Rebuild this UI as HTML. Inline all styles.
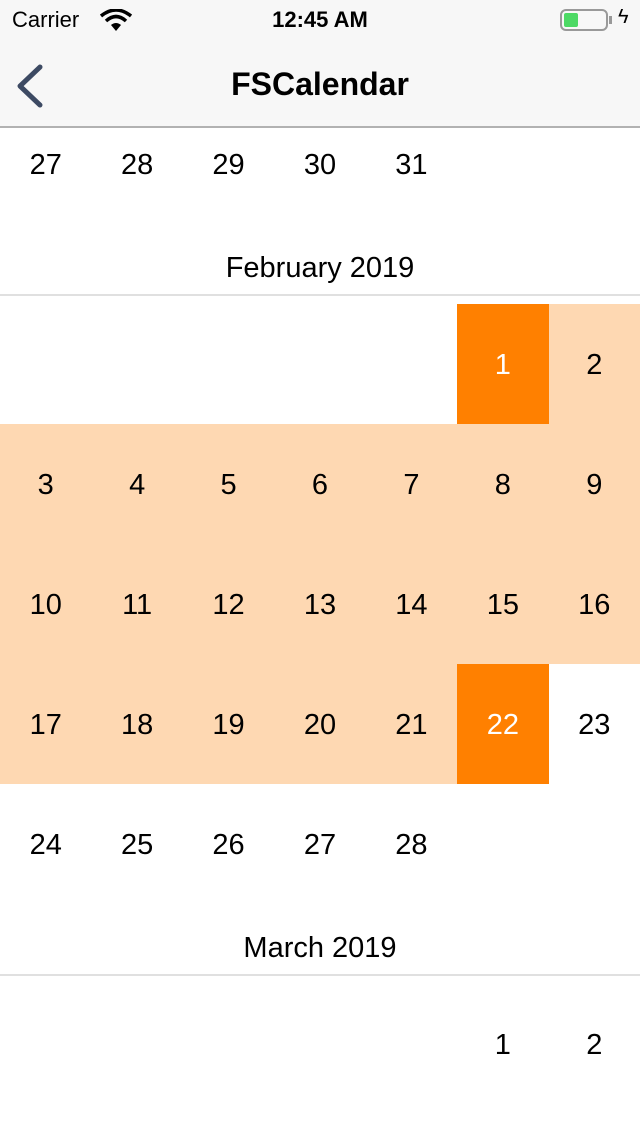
<!DOCTYPE html>
<html><head><meta charset="utf-8"><style>
*{margin:0;padding:0;box-sizing:border-box}
body{width:640px;height:1136px;overflow:hidden;background:#fff;font-family:"Liberation Sans",sans-serif;position:relative}
.abs{position:absolute}
.cell{position:absolute;width:91.43px;height:120px;display:flex;align-items:center;justify-content:center;font-size:29px;color:#000;padding-top:2px}
.hdr{position:absolute;left:0;width:640px;text-align:center;font-size:29px;color:#000}
.line{position:absolute;left:0;width:640px;height:2px;background:#e0e0e0}
</style></head><body>
<div class="abs" style="left:0;top:0;width:640px;height:40px;background:#f7f7f7">
 <div class="abs" style="left:12px;top:7px;font-size:22px">Carrier</div>
 <svg class="abs" style="left:100px;top:9px" width="32" height="24" viewBox="0 0 32 24"><path d="M16 22 L11 16 Q16 12 21 16Z" fill="#000"/><path d="M6 12 Q16 3 26 12" stroke="#000" stroke-width="3.5" fill="none"/><path d="M1 7 Q16 -5 31 7" stroke="#000" stroke-width="3.5" fill="none"/></svg>
 <div class="abs" style="left:0;width:640px;top:7px;text-align:center;font-size:22px;font-weight:bold">12:45 AM</div>
 <div class="abs" style="left:560px;top:9px;width:48px;height:22px;border:2px solid #999;border-radius:6px"><div style="margin:2px;width:14px;height:14px;background:#4cd964;border-radius:2px"></div></div>
 <div class="abs" style="left:609px;top:16px;width:3px;height:8px;background:#999"></div>
 <div class="abs" style="left:618px;top:6px;font-size:20px">ϟ</div>
</div>
<div class="abs" style="left:0;top:40px;width:640px;height:88px;background:#f7f7f7;border-bottom:2px solid #b2b2b2">
 <svg class="abs" style="left:14px;top:24px" width="30" height="44" viewBox="0 0 30 44"><path d="M26 3 L6 22 L26 41" stroke="#3d4a63" stroke-width="5" fill="none" stroke-linecap="round" stroke-linejoin="round"/></svg>
 <div class="abs" style="left:0;width:640px;top:26px;text-align:center;font-size:32px;font-weight:bold">FSCalendar</div>
</div>
<div id="cal" class="abs" style="left:0;top:130px;width:640px;height:1006px;overflow:hidden"></div>
<script>
const janDays=[27,28,29,30,31];
const febDays=[1,2,3,4,5,6,7,8,9,10,11,12,13,14,15,16,17,18,19,20,21,22,23,24,25,26,27,28];
const febStartCol=5;
const marchDays=[1,2];
const marchStartCol=5;
const selected=[1,22];
const rangeStart=2, rangeEnd=21;
const cal=document.getElementById('cal');
const W=640/7, OFF=-130;
function cell(day,col,top,bg,color){
 const d=document.createElement('div');
 d.className='cell';
 
 
 d.style.left=(col*W)+'px';d.style.top=(top+OFF)+'px';
 if(bg)d.style.background=bg;
 if(color)d.style.color=color;
 d.textContent=day;cal.appendChild(d);
}
function hdr(text,top){
 const h=document.createElement('div');h.className='hdr';
 
 
 h.style.top=(top+OFF+3)+'px';h.textContent=text;cal.appendChild(h);
 const l=document.createElement('div');l.className='line';
 
 
 l.style.top=(top+OFF+45)+'px';cal.appendChild(l);
}
janDays.forEach((d,i)=>cell(d,i,104));
hdr('February 2019',249);
febDays.forEach((d,i)=>{
 const p=i+febStartCol,r=Math.floor(p/7),c=p%7;
 let bg=null,col=null;
 if(selected.includes(d)){bg='#ff8000';col='#fff';}
 else if(d>=rangeStart&&d<=rangeEnd)bg='#fed8b2';
 cell(d,c,304+r*120,bg,col);
});
hdr('March 2019',929);
marchDays.forEach((d,i)=>cell(d,i+marchStartCol,984));
</script>
</body></html>
